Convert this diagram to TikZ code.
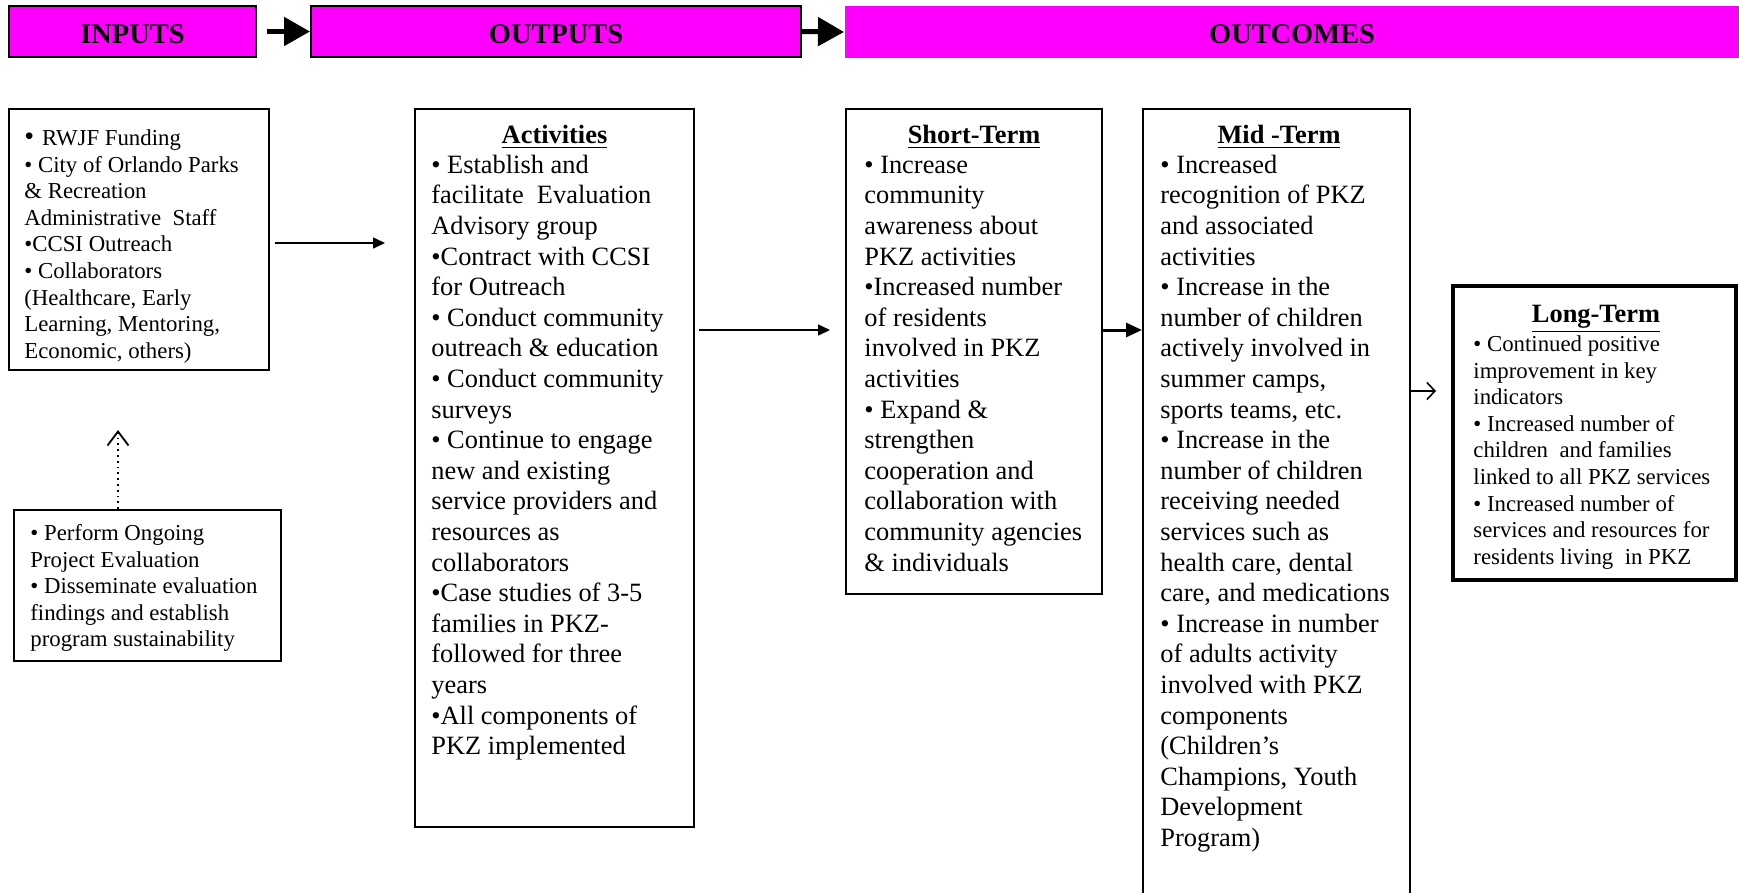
\documentclass[tikz,border=0pt]{standalone}
\usepackage{fontspec}
\setmainfont{Liberation Serif}
\usetikzlibrary{arrows.meta}
\definecolor{mag}{RGB}{255,0,255}
\begin{document}
\begin{tikzpicture}[x=0.5pt,y=-0.5pt,
 hdr/.style={fill=mag, draw=black, line width=1pt, inner sep=0, text height=11.8pt, text depth=0pt, font=\fontsize{14.2}{16}\selectfont\bfseries},
 box/.style={draw=black, line width=1pt, inner sep=0},
 big/.style={inner sep=0, anchor=north west, align=left, font=\fontsize{13.2}{15.3}\selectfont},
 sml/.style={inner sep=0, anchor=north west, align=left, font=\fontsize{11.4}{13.3}\selectfont},
 ttl/.style={inner sep=0, anchor=base, font=\fontsize{13.2}{15.3}\selectfont\bfseries},
 fat/.style={line width=2.5pt, -{Triangle[length=13pt,width=14pt]}},
 thinarr/.style={line width=0.8pt, -{Triangle[length=6pt,width=5.5pt]}},
]
\useasboundingbox (0,0) rectangle (1739,893);

% headers
\node[hdr, minimum width=123.5pt, minimum height=25.5pt] (hin) at (132.5,31.5) {INPUTS};
\node[hdr, minimum width=245pt, minimum height=25.5pt] (hout) at (556,31.5) {OUTPUTS};
\node[hdr, draw=none, minimum width=447pt, minimum height=26pt] (hoc) at (1292,32) {OUTCOMES};
\draw[fat] ([xshift=5pt]hin.east) -- (hout.west);
\draw[fat] (hout.east) -- (hoc.west);

% boxes
\node[box, minimum width=130pt, minimum height=130.5pt] (inp) at (139,239.5) {};
\node[box, minimum width=133.5pt, minimum height=75.5pt] (ev) at (147.5,585.5) {};
\node[box, minimum width=139.5pt, minimum height=359pt] (act) at (554.5,468) {};
\node[box, minimum width=128pt, minimum height=242.5pt] (st) at (974,351.5) {};
\node[box, minimum width=133.5pt, minimum height=398pt] (mid) at (1276.5,507) {};
\node[box, line width=2pt, minimum width=141.5pt, minimum height=147pt] (lt) at (1594.5,433) {};

% connectors
\coordinate (c1) at (385,243);
\draw[thinarr, shorten <=2.5pt] (inp.east |- c1) -- (c1);
\coordinate (c2) at (830,330);
\draw[thinarr, shorten <=2pt] (act.east |- c2) -- (c2);
\draw[line width=1.5pt, -{Triangle[length=8pt,width=7pt]}] (st.east |- c2) -- (mid.west |- c2);
\coordinate (c3) at (1436,391);
\draw[line width=0.8pt, -{Straight Barb[length=4pt,width=8.5pt]}] (mid.east |- c3) -- (c3);
\coordinate (c4) at (118,430);
\draw[dotted, line width=0.9pt, -{Straight Barb[length=7pt,width=10.5pt]}] (ev.north -| c4) -- (c4);

% texts
\node[sml] (inpt) at (24,126.5) {\strut{\fontsize{14}{14}\selectfont•}\hspace{4pt}RWJF Funding\\
• City of Orlando Parks\\
\& Recreation\\
Administrative\ \ Staff\\
•CCSI Outreach\\
• Collaborators\\
(Healthcare, Early\\
Learning, Mentoring,\\
Economic, others)};

\node[sml] (evt) at (30,521.5) {\strut• Perform Ongoing\\
Project Evaluation\\
• Disseminate evaluation\\
findings and establish\\
program sustainability};

\node[ttl] (acth) at (554.5,144) {\underline{Activities}};
\node[big] (actt) at (431,151.5) {\strut• Establish and\\
facilitate\ \ Evaluation\\
Advisory group\\
•Contract with CCSI\\
for Outreach\\
• Conduct community\\
outreach \& education\\
• Conduct community\\
surveys\\
• Continue to engage\\
new and existing\\
service providers and\\
resources as\\
collaborators\\
•Case studies of 3-5\\
families in PKZ-\\
followed for three\\
years\\
•All components of\\
PKZ implemented};

\node[ttl] (sth) at (974,144) {\underline{Short-Term}};
\node[big] (stt) at (864,151.5) {\strut• Increase\\
community\\
awareness about\\
PKZ activities\\
•Increased number\\
of residents\\
involved in PKZ\\
activities\\
• Expand \&\\
strengthen\\
cooperation and\\
collaboration with\\
community agencies\\
\& individuals};

\node[ttl] (midh) at (1279,144) {\underline{Mid -Term}};
\node[big] (midt) at (1160,151.5) {\strut• Increased\\
recognition of PKZ\\
and associated\\
activities\\
• Increase in the\\
number of children\\
actively involved in\\
summer camps,\\
sports teams, etc.\\
• Increase in the\\
number of children\\
receiving needed\\
services such as\\
health care, dental\\
care, and medications\\
• Increase in number\\
of adults activity\\
involved with PKZ\\
components\\
(Children’s\\
Champions, Youth\\
Development\\
Program)};

\node[ttl] (lth) at (1596,322.5) {\underline{Long-Term}};
\node[sml] (ltt) at (1473,332.5) {\strut• Continued positive\\
improvement in key\\
indicators\\
• Increased number of\\
children\ \ and families\\
linked to all PKZ services\\
• Increased number of\\
services and resources for\\
residents living\ \ in PKZ};
\end{tikzpicture}
\end{document}
